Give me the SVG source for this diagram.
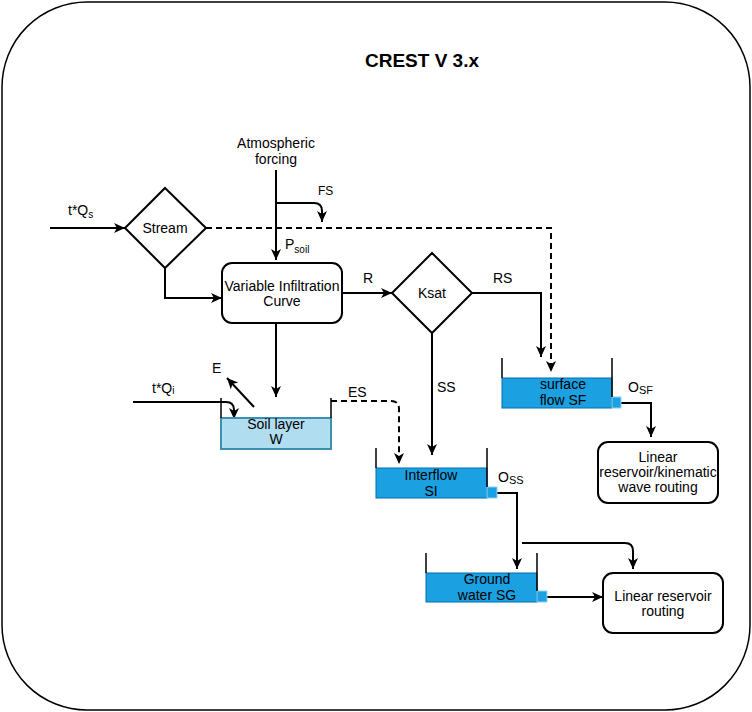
<svg xmlns="http://www.w3.org/2000/svg" width="752" height="712" viewBox="0 0 752 712">
<defs>
<marker id="arr" markerUnits="userSpaceOnUse" markerWidth="12" markerHeight="10" refX="11" refY="5" orient="auto">
<path d="M0,0 L11,5 L0,10 L3,5 Z" fill="#000"/>
</marker>
<style>
text{font-family:"Liberation Sans",Arial,sans-serif;font-size:14px;fill:#000}
.c{text-anchor:middle}
.sub{font-size:10px}
.ln{fill:none;stroke:#000;stroke-width:2}
.dash{stroke-dasharray:6,4}
.box{fill:#fff;stroke:#000;stroke-width:2}
.wall{fill:none;stroke:#000;stroke-width:1.5}
.water{fill:#1ba1e2;stroke:#006eaf;stroke-width:1}
.outlet{fill:#1ba1e2;stroke:#8fd0f2;stroke-width:1}
.soil{fill:#b1ddf0;stroke:#3d8fb0;stroke-width:2}
</style>
</defs>
<rect x="2" y="2" width="748" height="708" rx="85" ry="85" fill="#fff" stroke="#000" stroke-width="1.5"/>
<text x="422" y="67" class="c" style="font-size:19px;font-weight:bold">CREST V 3.x</text>

<g id="connectors">
<path class="ln" d="M276,170 V260" marker-end="url(#arr)"/>
<path class="ln" d="M276,203 H314 Q322,203 322,211 V222" marker-end="url(#arr)"/>
<path class="ln" d="M50,228 H125" marker-end="url(#arr)"/>
<path class="ln" d="M165,268 V298 H222" marker-end="url(#arr)"/>
<path class="ln dash" d="M206,228 H551 V372" marker-end="url(#arr)"/>
<path class="ln" d="M276,323 V397" marker-end="url(#arr)"/>
<path class="ln" d="M342,293 H392" marker-end="url(#arr)"/>
<path class="ln" d="M472,293 H541 V357" marker-end="url(#arr)"/>
<path class="ln" d="M432,333 V455" marker-end="url(#arr)"/>
<path class="ln" d="M254,407 L227,378" marker-end="url(#arr)"/>
<path class="ln" d="M133,402 H226 Q234,402 234,410 V419" marker-end="url(#arr)"/>
<path class="ln dash" d="M331,401 H391 Q399,401 399,409 V464" marker-end="url(#arr)"/>
<path class="ln" d="M621,403 H651 V437" marker-end="url(#arr)"/>
<path class="ln" d="M497,493 H517 V569" marker-end="url(#arr)"/>
<path class="ln" d="M522,543 H625 Q633,543 633,551 V569" marker-end="url(#arr)"/>
<path class="ln" d="M547,597 H603" marker-end="url(#arr)"/>
</g>

<g id="labels">
<text x="276" y="148" class="c">Atmospheric</text>
<text x="276" y="164" class="c">forcing</text>
<text x="318" y="195" style="font-size:12px">FS</text>
<text x="68" y="215">t*Q<tspan class="sub" dy="3">s</tspan></text>
<text x="285" y="249">P<tspan class="sub" dy="4">soil</tspan></text>
<text x="363" y="283">R</text>
<text x="493" y="283">RS</text>
<text x="437" y="392">SS</text>
<text x="212" y="373">E</text>
<text x="152" y="393">t*Q<tspan class="sub" dy="1">i</tspan></text>
<text x="348" y="397">ES</text>
<text x="628" y="392">O<tspan class="sub" style="font-size:11px" dy="2">SF</tspan></text>
<text x="498" y="482">O<tspan class="sub" style="font-size:11px" dy="2">SS</tspan></text>
</g>

<g id="stream">
<polygon class="box" points="165,188 206,228 165,268 125,228"/>
<text x="165" y="233" class="c">Stream</text>
</g>

<g id="vic">
<rect class="box" x="222" y="263" width="120" height="60" rx="10"/>
<text x="282" y="291" class="c">Variable Infiltration</text>
<text x="282" y="306" class="c">Curve</text>
</g>

<g id="ksat">
<polygon class="box" points="432,253 472,293 432,333 392,293"/>
<text x="432" y="298" class="c">Ksat</text>
</g>

<g id="soil-layer">
<rect class="soil" x="221" y="418" width="110" height="31"/>
<path class="wall" d="M221,398 V418 M331,398 V418"/>
<text x="276" y="429" class="c">Soil layer</text>
<text x="276" y="444" class="c">W</text>
</g>

<g id="surface-flow">
<rect class="water" x="502" y="378" width="110" height="30"/>
<rect class="outlet" x="612" y="397" width="9" height="11"/>
<path class="wall" d="M502,358 V378 M612,358 V397"/>
<text x="563" y="389" class="c">surface</text>
<text x="563" y="405" class="c">flow SF</text>
</g>

<g id="interflow">
<rect class="water" x="376" y="468" width="111" height="30"/>
<rect class="outlet" x="487" y="487" width="10" height="11"/>
<path class="wall" d="M376,448 V468 M487,448 V487"/>
<text x="431" y="480" class="c">Interflow</text>
<text x="431" y="496" class="c">SI</text>
</g>

<g id="groundwater">
<rect class="water" x="426" y="573" width="111" height="29"/>
<rect class="outlet" x="537" y="591" width="10" height="11"/>
<path class="wall" d="M426,553 V573 M537,553 V591"/>
<text x="487" y="584" class="c">Ground</text>
<text x="487" y="600" class="c">water SG</text>
</g>

<g id="kinematic-routing">
<rect class="box" x="598" y="442" width="120" height="61" rx="10"/>
<text x="658" y="462" class="c">Linear</text>
<text x="658" y="477" class="c">reservoir/kinematic</text>
<text x="658" y="492" class="c">wave routing</text>
</g>

<g id="linear-routing">
<rect class="box" x="603" y="573" width="120" height="60" rx="10"/>
<text x="663" y="601" class="c">Linear reservoir</text>
<text x="663" y="616" class="c">routing</text>
</g>
</svg>
